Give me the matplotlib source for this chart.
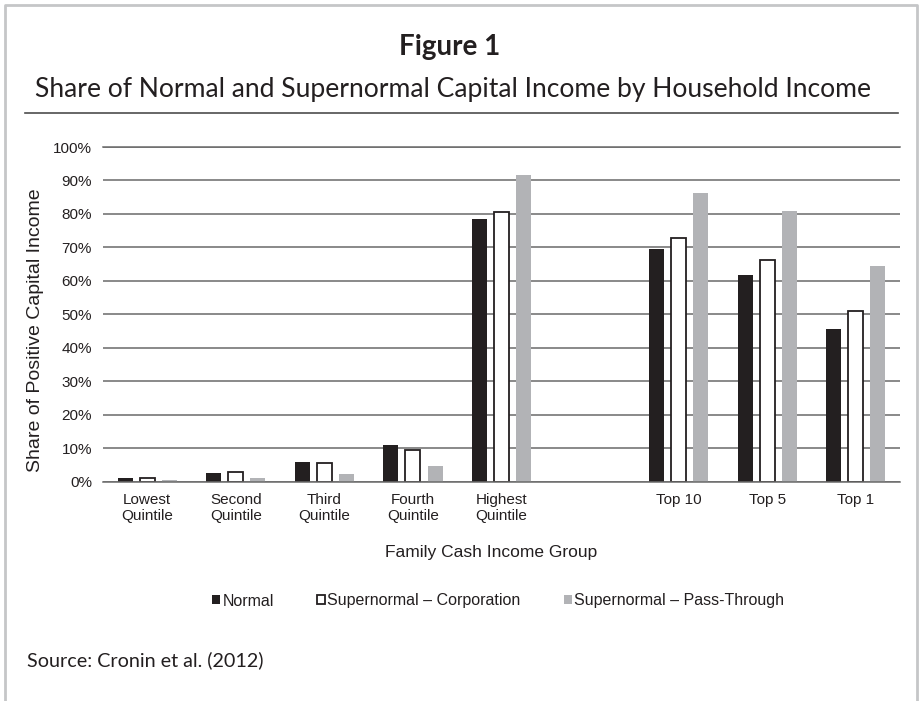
import numpy as np
import matplotlib
matplotlib.use('Agg')
import matplotlib.pyplot as plt
from matplotlib.lines import Line2D

# values (share of positive capital income, %)
groups = ['Lowest\nQuintile', 'Second\nQuintile', 'Third\nQuintile', 'Fourth\nQuintile',
          'Highest\nQuintile', '', 'Top 10', 'Top 5', 'Top 1']
normal = [1.1, 2.7, 5.8, 11.0, 78.4, np.nan, 69.6, 61.8, 45.7]
corporation = [1.2, 2.9, 5.5, 9.5, 80.7, np.nan, 72.8, 66.1, 51.0]
pass_through = [0.5, 1.1, 2.2, 4.8, 91.5, np.nan, 86.3, 81.0, 64.4]
series_names = ['Normal', 'Supernormal \u2013 Corporation', 'Supernormal \u2013 Pass-Through']
yticks = [0, 10, 20, 30, 40, 50, 60, 70, 80, 90, 100]

W, H = 921, 701
plt.rcParams['font.family'] = ['Liberation Sans', 'DejaVu Sans']
dark = '#231f20'

fig = plt.figure(figsize=(W / 100, H / 100), dpi=100)
ax = fig.add_axes([103 / W, 1 - 481.7 / H, 797 / W, 334.7 / H])

x = np.arange(len(groups))
w = 0.17
step = 0.25
b1 = ax.bar(x - step, normal, w, color=dark)
b2 = ax.bar(x, corporation, w, color='white', edgecolor=dark, linewidth=1.3)
b3 = ax.bar(x + step, pass_through, w, color='#b2b3b6')

ax.set_xlim(-0.5, len(groups) - 0.5)
ax.set_ylim(0, 100)
ax.set_yticks(yticks)
ax.set_yticklabels([f'{t}%' for t in yticks])
ax.set_xticks(x)
ax.set_xticklabels(groups)
ax.yaxis.grid(True, color='#6a6a6a', linewidth=1.1)
ax.set_axisbelow(True)
for s in ['left', 'right']:
    ax.spines[s].set_visible(False)
for s in ['top', 'bottom']:
    ax.spines[s].set_color('#6a6a6a')
    ax.spines[s].set_linewidth(1.1)
ax.tick_params(axis='both', length=0, labelsize=11, labelcolor=dark)
ax.tick_params(axis='y', pad=8)
ax.tick_params(axis='x', pad=8)

fig.text(35 / W, 1 - 330 / H, 'Share of Positive Capital Income', rotation=90,
         ha='center', va='center', fontsize=14, color=dark)
fig.text(491 / W, 1 - 553 / H, 'Family Cash Income Group',
         ha='center', va='center', fontsize=12.5, color=dark)

fig.legend([b1, b2, b3], series_names, loc='center', bbox_to_anchor=(498 / W, 1 - 601 / H),
           ncol=3, frameon=False, fontsize=11.5, handlelength=0.5, handleheight=0.5,
           handletextpad=0.15, columnspacing=2.7, labelcolor=dark)

# titles and source in a Myriad-like face
fig.text(450 / W, 1 - 47 / H, 'Figure 1', ha='center', va='center', fontsize=20,
         fontweight='bold', family='Lato', color=dark)
fig.text(453 / W, 1 - 89 / H, 'Share of Normal and Supernormal Capital Income by Household Income',
         ha='center', va='center', fontsize=19.1, family='Lato', color=dark)
fig.text(27 / W, 1 - 660 / H, 'Source: Cronin et al. (2012)', ha='left', va='center',
         fontsize=14.2, family='Lato', color=dark)

# outer frame and rule under the title
fig.add_artist(Line2D([5 / W, 5 / W, 917 / W, 917 / W], [0, 1 - 5 / H, 1 - 5 / H, 0],
                      transform=fig.transFigure, color='#c5c6c8', linewidth=2))
fig.add_artist(Line2D([25 / W, 898 / W], [1 - 113 / H, 1 - 113 / H],
                      transform=fig.transFigure, color='#4d4d4d', linewidth=1.2))

fig.savefig('out.png', dpi=100)
